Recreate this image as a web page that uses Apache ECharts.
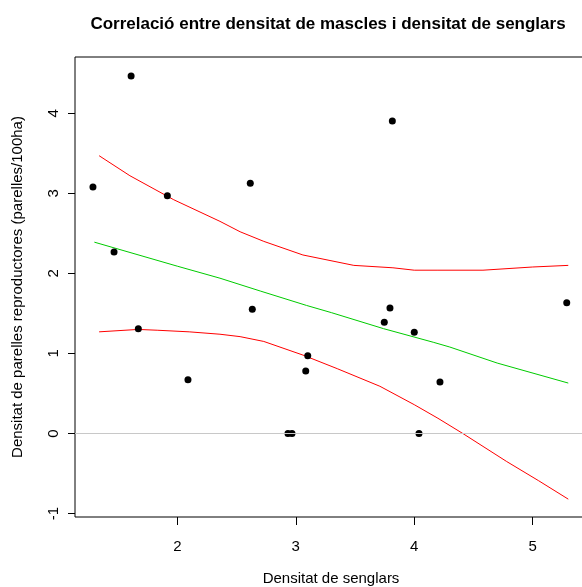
<!DOCTYPE html>
<html><head><meta charset="utf-8">
<script src="https://cdn.jsdelivr.net/npm/echarts@6/dist/echarts.min.js"></script>
<style>html,body{margin:0;padding:0;background:#fff}#c{width:582px;height:587px}</style>
</head><body><div id="c"></div>
<script>
const chartTitle = 'Correlació entre densitat de mascles i densitat de senglars';
const xTitle = 'Densitat de senglars';
const yTitle = 'Densitat de parelles reproductores (parelles/100ha)';
const xTicks = [2, 3, 4, 5];
const yTicks = [-1, 0, 1, 2, 3, 4];

// observed points
const boarDensity = [1.288, 1.610, 1.466, 1.671, 1.916, 2.090, 2.616, 2.633, 2.934, 2.968, 3.084, 3.101, 3.747, 3.795, 3.815, 4.000, 4.040, 4.217, 5.287];
const pairDensity = [3.079, 4.466, 2.267, 1.309, 2.971, 0.672, 3.126, 1.552, 0.000, 0.000, 0.781, 0.972, 1.389, 1.568, 3.904, 1.264, 0.000, 0.643, 1.634];

// fitted line
const fitX = [1.30, 2.00, 2.36, 2.70, 3.09, 3.30, 3.74, 4.16, 4.30, 4.70, 5.30];
const fitY = [2.39, 2.09, 1.94, 1.78, 1.60, 1.51, 1.31, 1.14, 1.08, 0.88, 0.63];

// upper confidence band
const upperX = [1.34, 1.60, 1.97, 2.36, 2.53, 2.73, 3.06, 3.49, 3.82, 4.00, 4.20, 4.58, 5.00, 5.30];
const upperY = [3.47, 3.22, 2.92, 2.65, 2.52, 2.40, 2.23, 2.10, 2.07, 2.04, 2.04, 2.04, 2.08, 2.10];

// lower confidence band
const lowerX = [1.34, 1.67, 1.83, 2.10, 2.36, 2.53, 2.73, 3.06, 3.35, 3.71, 4.00, 4.20, 4.41, 4.78, 5.05, 5.30];
const lowerY = [1.27, 1.30, 1.29, 1.27, 1.24, 1.21, 1.15, 0.98, 0.81, 0.59, 0.36, 0.19, 0.00, -0.35, -0.59, -0.82];

const pairs = (xs, ys) => xs.map((x, i) => [x, ys[i]]);
const FONT = 'Liberation Sans, Arial, sans-serif';

const chart = echarts.init(document.getElementById('c'), null, {renderer: 'canvas'});
chart.setOption({
  backgroundColor: '#ffffff',
  animation: false,
  title: {
    text: chartTitle,
    left: 323, top: 11, textAlign: 'center',
    textStyle: {fontFamily: FONT, fontSize: 17, fontWeight: 'bold', color: '#000'}
  },
  grid: {left: 75, top: 57, right: -5, bottom: 70, outerBoundsMode: 'none', containLabel: false,
         show: true, borderColor: '#000', borderWidth: 1, backgroundColor: 'transparent'},
  xAxis: {
    type: 'value', min: 1.1365, max: 5.458,
    name: xTitle, nameLocation: 'middle', nameGap: 54,
    nameTextStyle: {fontFamily: FONT, fontSize: 15, color: '#000'},
    axisLine: {show: false, onZero: false},
    splitLine: {show: false},
    axisTick: {show: true, length: 8, customValues: xTicks, lineStyle: {color: '#000'}},
    axisLabel: {customValues: xTicks, margin: 22, fontFamily: FONT, fontSize: 15, color: '#000'}
  },
  yAxis: {
    type: 'value', min: -1.043, max: 4.703,
    name: yTitle, nameLocation: 'middle', nameGap: 50,
    nameTextStyle: {fontFamily: FONT, fontSize: 15, color: '#000'},
    axisLine: {show: false, onZero: false},
    splitLine: {show: false},
    axisTick: {show: true, length: 7, customValues: yTicks, lineStyle: {color: '#000'}},
    axisLabel: {customValues: yTicks, rotate: 90, margin: 14, fontFamily: FONT, fontSize: 15, color: '#000'}
  },
  series: [
    {
      type: 'line', data: [], silent: true,
      markLine: {
        silent: true, symbol: ['none', 'none'], label: {show: false},
        lineStyle: {color: '#c8c8c8', width: 1, type: 'solid'},
        data: [{yAxis: 0}]
      }
    },
    {type: 'line', data: pairs(fitX, fitY), showSymbol: false, lineStyle: {color: '#00cc00', width: 1}, z: 3},
    {type: 'line', data: pairs(upperX, upperY), showSymbol: false, lineStyle: {color: '#ff0000', width: 1}, z: 3},
    {type: 'line', data: pairs(lowerX, lowerY), showSymbol: false, lineStyle: {color: '#ff0000', width: 1}, z: 3},
    {type: 'scatter', data: pairs(boarDensity, pairDensity), symbol: 'circle', symbolSize: 7, itemStyle: {color: '#000', opacity: 1}, z: 4}
  ]
});
</script>
</body></html>
